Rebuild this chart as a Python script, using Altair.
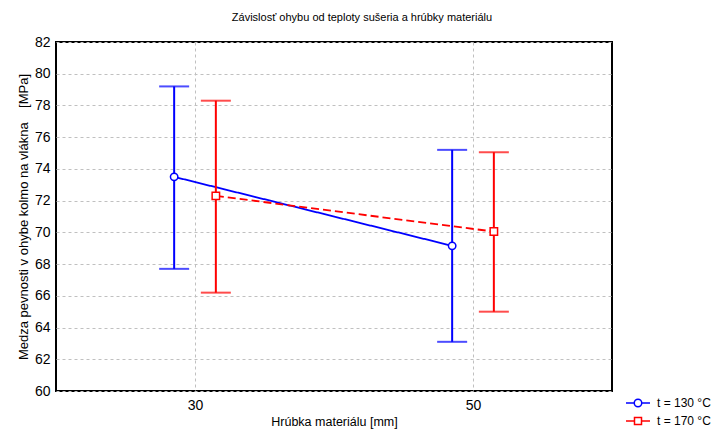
import altair as alt
import pandas as pd

thickness = [30, 50]
series = ["t = 130 °C", "t = 170 °C"]
dodge = [-1.5, 1.5]
mean_130 = [73.5, 69.15]
low_130 = [67.7, 63.1]
high_130 = [79.2, 75.2]
mean_170 = [72.3, 70.05]
low_170 = [66.2, 65.0]
high_170 = [78.3, 75.05]
y_ticks = list(range(60, 83, 2))

colors = ["#0000ff", "#ff0000"]
shapes = ["circle", "square"]
dashes = [[1, 0], [8, 4]]
# legend glyphs: short line with marker (units of half the symbol box)
legend_paths = [
    "M-2.4,0H-0.75M0.75,0H2.4M-0.75,0A0.75,0.75,0,1,0,0.75,0A0.75,0.75,0,1,0,-0.75,0Z",
    "M-2.4,0H-0.7M0.7,0H2.4M-0.7,-0.7H0.7V0.7H-0.7Z",
]

rows = []
for s, d, m, lo, hi in [
    (series[0], dodge[0], mean_130, low_130, high_130),
    (series[1], dodge[1], mean_170, low_170, high_170),
]:
    for i, t in enumerate(thickness):
        rows.append({"temp": s, "thickness": t, "dodge": d,
                     "mean": m[i], "low": lo[i], "high": hi[i]})
df = pd.DataFrame(rows)

FONT = "Liberation Sans"
YTITLE = "Medza pevnosti v ohybe kolmo na vlákna\u00a0\u00a0\u00a0\u00a0[MPa]"
XTITLE = "Hrúbka materiálu [mm]"

xscale = alt.Scale(domain=[20, 60], nice=False, zero=False)
yscale = alt.Scale(domain=[60, 82], nice=False, zero=False)


def X():
    return alt.X("xpos:Q", scale=xscale,
                 axis=alt.Axis(values=thickness, title=XTITLE, format="d"))


def Y(field):
    return alt.Y(f"{field}:Q", scale=yscale,
                 axis=alt.Axis(values=y_ticks, title=YTITLE, format="d"))


base = alt.Chart(df).transform_calculate(xpos="datum.thickness + datum.dodge")

layers = []
for i, s in enumerate(series):
    b = base.transform_filter(alt.datum.temp == s)
    c = colors[i]
    layers.append(b.mark_rule(color=c, strokeWidth=2).encode(x=X(), y=Y("low"), y2="high:Q"))
    layers.append(b.mark_tick(color=c, size=30, thickness=2, orient="horizontal").encode(x=X(), y=Y("low")))
    layers.append(b.mark_tick(color=c, size=30, thickness=2, orient="horizontal").encode(x=X(), y=Y("high")))
    layers.append(b.mark_line(color=c, strokeWidth=1.8, strokeDash=dashes[i]).encode(x=X(), y=Y("mean")))
for i, s in enumerate(series):
    b = base.transform_filter(alt.datum.temp == s)
    layers.append(b.mark_point(shape=shapes[i], stroke=colors[i], fill="white", fillOpacity=1,
                               opacity=1, strokeWidth=1.5, size=55).encode(x=X(), y=Y("mean")))

legend_layer = base.transform_filter("false").mark_point(
    fill="white", fillOpacity=1, strokeWidth=1.5, size=100, opacity=1
).encode(
    x=X(), y=Y("mean"),
    stroke=alt.Stroke("temp:N", scale=alt.Scale(domain=series, range=colors), title=None),
    shape=alt.Shape("temp:N", scale=alt.Scale(domain=series, range=legend_paths), title=None),
)
layers.append(legend_layer)

chart = alt.layer(*layers).properties(
    width=556, height=349,
    padding={"left": 48, "top": 34, "right": 105, "bottom": 40},
    autosize=alt.AutoSizeParams(type="none"),
    title=alt.TitleParams(
        "Závislosť ohybu od teploty sušeria a hrúbky materiálu",
        font=FONT, fontSize=11, fontWeight="normal", anchor="middle",
        dx=28, offset=12, color="black",
    ),
).configure_view(
    stroke="black", strokeWidth=2
).configure_axis(
    domain=False, ticks=False, grid=True, gridDash=[3, 3], gridColor="#c0c0c0",
    gridWidth=1, labelFont=FONT, labelFontSize=14, labelColor="black",
    titleFont=FONT, titleFontSize=13, titleFontWeight="normal", titleColor="black",
).configure_axisY(
    labelPadding=6, titlePadding=4,
).configure_axisX(
    labelPadding=7, titlePadding=3, titleFontSize=12.5,
).configure_legend(
    orient="none", legendX=576, legendY=355, labelFont=FONT, labelFontSize=12,
    labelColor="black", symbolSize=100, symbolStrokeWidth=1.5, labelOffset=13,
    rowPadding=4, padding=0,
)

chart.save("out.html", embed_options={"renderer": "svg", "actions": False})
